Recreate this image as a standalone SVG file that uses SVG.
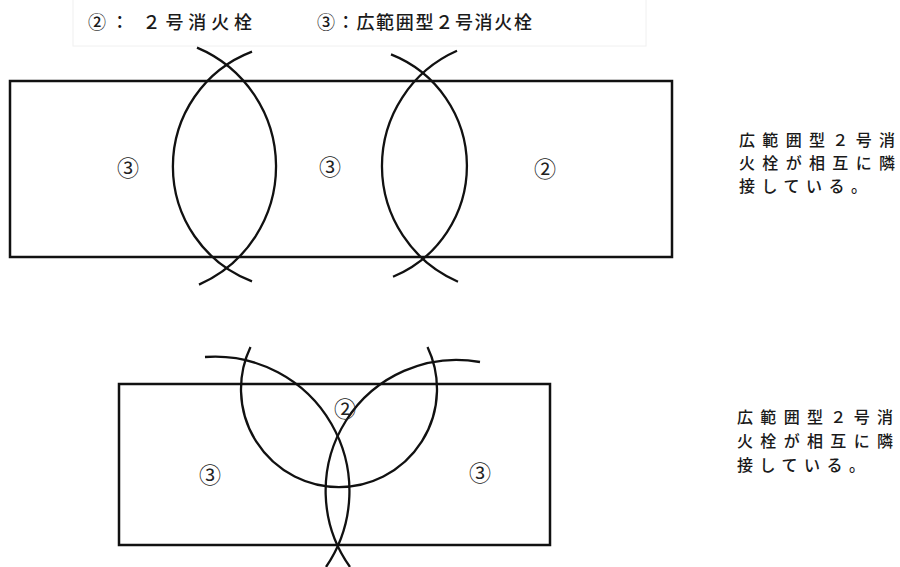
<svg xmlns="http://www.w3.org/2000/svg" width="900" height="567" viewBox="0 0 900 567">
<style>
.ln{fill:none;stroke:#111;stroke-width:2.3}
.box{fill:none;stroke:#111;stroke-width:2.5}
.t{font-family:"Noto Sans CJK JP","Noto Sans CJK SC",sans-serif;font-size:16px;font-weight:500;fill:#1a1a1a}
.h{font-family:"Noto Sans CJK JP","Noto Sans CJK SC",sans-serif;font-size:18px;font-weight:500;fill:#1a1a1a}
.n{font-family:"Noto Sans CJK JP","Noto Sans CJK SC",sans-serif;font-size:22px;fill:#222;text-anchor:middle}
</style>
<rect width="900" height="567" fill="#fff"/>
<g id="legend">
<rect x="73" y="-2" width="573" height="48" fill="none" stroke="#f0f0f0" stroke-width="1"/>
<text class="h" x="88" y="29" textLength="164" lengthAdjust="spacing">②： ２号消火栓</text>
<text class="h" x="317" y="29" textLength="215" lengthAdjust="spacing">③：広範囲型２号消火栓</text>
</g>
<g id="top-plan">
<rect class="box" x="10" y="81" width="662" height="176"/>
<g id="connectors-top">
<path class="ln" d="M252 51.6 A123 123 0 0 0 252 281.4"/>
<path class="ln" d="M197 47.6 A129 129 0 0 1 199 284.6"/>
<path class="ln" d="M457 50.8 A126 126 0 0 0 458 281.7"/>
<path class="ln" d="M391 54.4 A120 120 0 0 1 393 276.8"/>
</g>
<text class="n" x="128" y="176">③</text>
<text class="n" x="330" y="175">③</text>
<text class="n" x="545" y="177">②</text>
</g>
<g id="top-note">
<text class="t" x="739" y="146" textLength="156" lengthAdjust="spacing">広範囲型２号消</text>
<text class="t" x="739" y="169" textLength="156" lengthAdjust="spacing">火栓が相互に隣</text>
<text class="t" x="739" y="192" textLength="128" lengthAdjust="spacing">接している。</text>
</g>
<g id="bottom-plan">
<rect class="box" x="119" y="384" width="431" height="161"/>
<g id="connectors-bottom">
<path class="ln" d="M250.5 347 A98 98 0 1 0 427.5 347"/>
<path class="ln" d="M205 357 A134.5 134.5 0 0 1 326 567"/>
<path class="ln" d="M480 362 A131 131 0 0 0 350 567"/>
</g>
<text class="n" x="345" y="417">②</text>
<text class="n" x="210" y="483">③</text>
<text class="n" x="480" y="481">③</text>
</g>
<g id="bottom-note">
<text class="t" x="737" y="423" textLength="156" lengthAdjust="spacing">広範囲型２号消</text>
<text class="t" x="737" y="447" textLength="156" lengthAdjust="spacing">火栓が相互に隣</text>
<text class="t" x="737" y="471" textLength="128" lengthAdjust="spacing">接している。</text>
</g>
</svg>
